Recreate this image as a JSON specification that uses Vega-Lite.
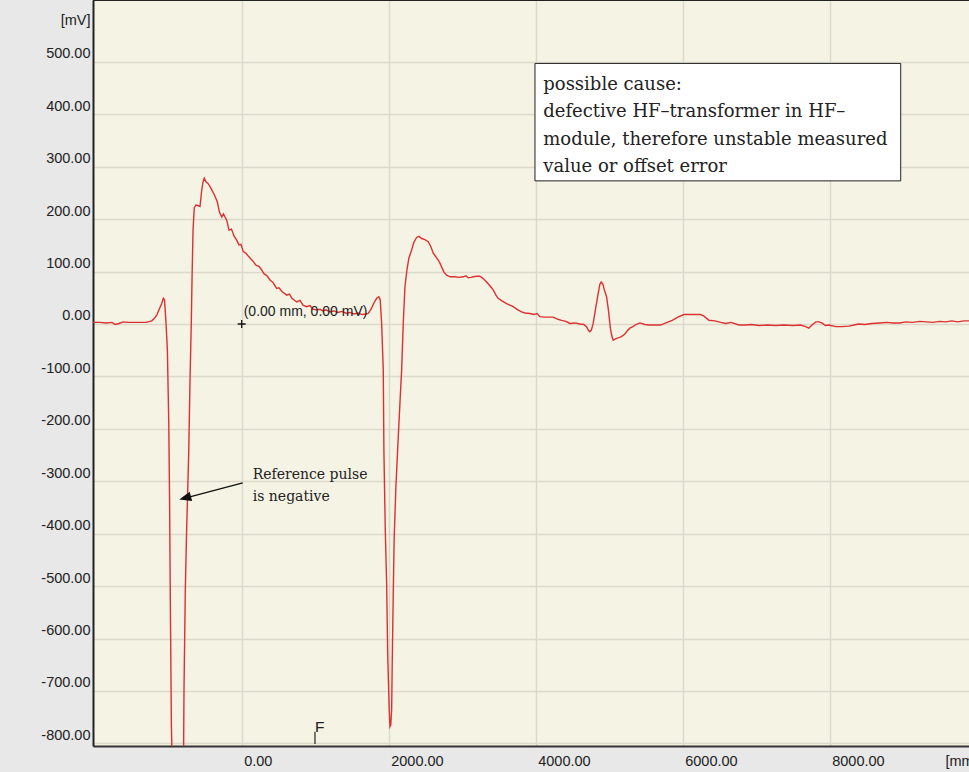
{
  "$schema": "https://vega.github.io/schema/vega-lite/v6.json",
  "width": 876,
  "height": 746,
  "autosize": {"type": "none"},
  "padding": {"left": 93, "top": 0, "right": 0, "bottom": 26},
  "background": "#e8e8e8",
  "config": {
    "view": {"fill": "#f5f3e4", "stroke": null},
    "font": "Liberation Sans"
  },
  "datasets": {
    "trace": [
      {"x":-2023,"y":3},{"x":-1927,"y":3},{"x":-1846,"y":2},{"x":-1764,"y":3},{"x":-1723,"y":-1},{"x":-1669,"y":1},{"x":-1610,"y":4},{"x":-1546,"y":3},{"x":-1465,"y":3},{"x":-1360,"y":3},{"x":-1302,"y":3},{"x":-1224,"y":6},{"x":-1193,"y":10},{"x":-1156,"y":17},{"x":-1125,"y":27},{"x":-1088,"y":39},{"x":-1066,"y":49},{"x":-1050,"y":46},{"x":-1029,"y":1},{"x":-1011,"y":-50},{"x":-992,"y":-190},{"x":-981,"y":-336},{"x":-974,"y":-476},{"x":-957,"y":-762},{"x":-938,"y":-889},{"x":-870,"y":-960},{"x":-794,"y":-889},{"x":-785,"y":-698},{"x":-767,"y":-507},{"x":-748,"y":-387},{"x":-721,"y":-247},{"x":-703,"y":-107},{"x":-685,"y":7},{"x":-676,"y":84},{"x":-662,"y":179},{"x":-645,"y":222},{"x":-622,"y":227},{"x":-598,"y":226},{"x":-567,"y":224},{"x":-544,"y":255},{"x":-526,"y":271},{"x":-509,"y":278},{"x":-486,"y":271},{"x":-458,"y":268},{"x":-431,"y":262},{"x":-404,"y":255},{"x":-377,"y":248},{"x":-332,"y":233},{"x":-302,"y":213},{"x":-272,"y":204},{"x":-248,"y":210},{"x":-204,"y":198},{"x":-173,"y":179},{"x":-139,"y":181},{"x":-105,"y":168},{"x":-68,"y":160},{"x":-37,"y":151},{"x":-10,"y":152},{"x":22,"y":138},{"x":58,"y":135},{"x":92,"y":129},{"x":126,"y":124},{"x":158,"y":119},{"x":194,"y":112},{"x":235,"y":110},{"x":272,"y":103},{"x":303,"y":96},{"x":344,"y":92},{"x":385,"y":84},{"x":426,"y":79},{"x":476,"y":68},{"x":507,"y":69},{"x":548,"y":62},{"x":612,"y":55},{"x":650,"y":57},{"x":684,"y":49},{"x":748,"y":42},{"x":793,"y":45},{"x":834,"y":36},{"x":884,"y":33},{"x":929,"y":35},{"x":970,"y":28},{"x":1020,"y":27},{"x":1065,"y":28},{"x":1106,"y":25},{"x":1146,"y":27},{"x":1201,"y":23},{"x":1255,"y":25},{"x":1310,"y":22},{"x":1364,"y":24},{"x":1428,"y":20},{"x":1473,"y":22},{"x":1527,"y":19},{"x":1582,"y":21},{"x":1636,"y":18},{"x":1690,"y":19},{"x":1722,"y":20},{"x":1758,"y":28},{"x":1799,"y":40},{"x":1836,"y":49},{"x":1867,"y":52},{"x":1885,"y":46},{"x":1904,"y":1},{"x":1926,"y":-88},{"x":1935,"y":-244},{"x":1953,"y":-390},{"x":1972,"y":-495},{"x":1986,"y":-628},{"x":2007,"y":-736},{"x":2017,"y":-768},{"x":2028,"y":-765},{"x":2040,"y":-736},{"x":2048,"y":-647},{"x":2062,"y":-514},{"x":2075,"y":-406},{"x":2099,"y":-307},{"x":2130,"y":-215},{"x":2153,"y":-151},{"x":2176,"y":-88},{"x":2198,"y":1},{"x":2221,"y":71},{"x":2248,"y":103},{"x":2275,"y":126},{"x":2312,"y":141},{"x":2343,"y":156},{"x":2380,"y":165},{"x":2411,"y":167},{"x":2448,"y":163},{"x":2493,"y":161},{"x":2538,"y":157},{"x":2575,"y":147},{"x":2606,"y":135},{"x":2643,"y":128},{"x":2674,"y":122},{"x":2697,"y":116},{"x":2720,"y":109},{"x":2752,"y":99},{"x":2788,"y":93},{"x":2833,"y":90},{"x":2901,"y":90},{"x":2956,"y":89},{"x":3014,"y":90},{"x":3051,"y":92},{"x":3082,"y":88},{"x":3119,"y":89},{"x":3150,"y":90},{"x":3201,"y":91},{"x":3241,"y":91},{"x":3282,"y":87},{"x":3332,"y":80},{"x":3377,"y":73},{"x":3422,"y":65},{"x":3459,"y":55},{"x":3490,"y":49},{"x":3540,"y":44},{"x":3604,"y":39},{"x":3649,"y":36},{"x":3694,"y":33},{"x":3745,"y":28},{"x":3808,"y":23},{"x":3853,"y":21},{"x":3921,"y":20},{"x":3976,"y":18},{"x":4017,"y":20},{"x":4057,"y":14},{"x":4125,"y":13},{"x":4193,"y":13},{"x":4238,"y":13},{"x":4302,"y":9},{"x":4353,"y":7},{"x":4411,"y":5},{"x":4465,"y":1},{"x":4533,"y":2},{"x":4601,"y":0},{"x":4655,"y":-1},{"x":4692,"y":-5},{"x":4717,"y":-12},{"x":4737,"y":-15},{"x":4757,"y":-12},{"x":4782,"y":1},{"x":4812,"y":27},{"x":4846,"y":55},{"x":4873,"y":76},{"x":4891,"y":80},{"x":4914,"y":76},{"x":4934,"y":65},{"x":4964,"y":52},{"x":4989,"y":27},{"x":5016,"y":-8},{"x":5036,"y":-23},{"x":5054,"y":-31},{"x":5091,"y":-28},{"x":5132,"y":-26},{"x":5168,"y":-24},{"x":5213,"y":-19},{"x":5247,"y":-13},{"x":5281,"y":-8},{"x":5322,"y":-5},{"x":5363,"y":-1},{"x":5417,"y":2},{"x":5485,"y":-1},{"x":5540,"y":-2},{"x":5608,"y":-2},{"x":5699,"y":-2},{"x":5771,"y":2},{"x":5857,"y":7},{"x":5934,"y":13},{"x":6016,"y":18},{"x":6085,"y":18},{"x":6166,"y":18},{"x":6242,"y":18},{"x":6289,"y":15},{"x":6357,"y":7},{"x":6438,"y":6},{"x":6520,"y":3},{"x":6584,"y":1},{"x":6657,"y":3},{"x":6765,"y":-2},{"x":6856,"y":-2},{"x":6929,"y":-1},{"x":7037,"y":-3},{"x":7145,"y":-2},{"x":7264,"y":-3},{"x":7376,"y":-2},{"x":7499,"y":-3},{"x":7606,"y":-2},{"x":7672,"y":-5},{"x":7717,"y":-8},{"x":7758,"y":-2},{"x":7812,"y":4},{"x":7853,"y":4},{"x":7894,"y":2},{"x":7941,"y":-3},{"x":7989,"y":-2},{"x":8080,"y":-5},{"x":8167,"y":-5},{"x":8262,"y":-4},{"x":8330,"y":-2},{"x":8394,"y":0},{"x":8478,"y":-1},{"x":8574,"y":1},{"x":8680,"y":2},{"x":8776,"y":3},{"x":8862,"y":2},{"x":8953,"y":2},{"x":9035,"y":4},{"x":9130,"y":3},{"x":9225,"y":5},{"x":9316,"y":4},{"x":9402,"y":3},{"x":9497,"y":5},{"x":9579,"y":4},{"x":9661,"y":6},{"x":9743,"y":4},{"x":9825,"y":6},{"x":9895,"y":6}
    ],
    "box": [{"x1": 3990, "x2": 8966, "y1": 497, "y2": 273}],
    "boxText": [{"x": 4103, "y": 447, "t": "possible cause:\ndefective HF–transformer in HF–\nmodule, therefore unstable measured\nvalue or offset error"}],
    "arrow": [{"x": 14, "y": -303, "x2": -770, "y2": -332}],
    "head": [{"x": -770, "y": -331.6}],
    "note": [{"x": 150, "y": -296, "t": "Reference pulse\nis negative"}],
    "origin": [{"x": 0, "y": 0, "t": "(0.00 mm, 0.00 mV)"}],
    "fmark": [{"x": 997, "y": -778, "y2": -801, "t": "F"}],
    "top": [{"y": 618}]
  },
  "layer": [
    {
      "data": {"name": "box"},
      "mark": {"type": "rect", "fill": "#ffffff", "stroke": "#222222", "strokeWidth": 1},
      "encoding": {
        "x": {"field": "x1", "type": "quantitative", "title": "[mm]", "scale": {"domain": [-2023, 9895], "nice": false, "zero": false}},
        "x2": {"field": "x2", "title": "[mm]"},
        "y": {"field": "y1", "type": "quantitative", "title": "[mV]", "scale": {"domain": [-805, 618], "nice": false, "zero": false}},
        "y2": {"field": "y2", "title": "[mV]"}
      }
    },
    {
      "data": {"name": "boxText"},
      "mark": {"type": "text", "font": "DejaVu Serif", "fontSize": 18, "align": "left", "baseline": "alphabetic", "lineBreak": "\n", "lineHeight": 27.5, "color": "#222222"},
      "encoding": {
        "x": {"field": "x", "type": "quantitative", "title": "[mm]"},
        "y": {"field": "y", "type": "quantitative", "title": "[mV]"},
        "text": {"field": "t"}
      }
    },
    {
      "data": {"name": "trace"},
      "mark": {"type": "line", "color": "#dd3030", "strokeWidth": 1.4, "clip": true},
      "encoding": {
        "x": {
          "field": "x", "type": "quantitative", "title": "[mm]",
          "scale": {"domain": [-2023, 9895], "nice": false, "zero": false},
          "axis": {
            "values": [0, 2000, 4000, 6000, 8000],
            "format": ".2f",
            "labelExpr": "replace(datum.label, '−', '-')",
            "labelAlign": "left", "labelOffset": 2, "labelBaseline": "alphabetic", "labelPadding": 19,
            "labelFlush": false, "labelOverlap": false, "labelBound": false,
            "labelFont": "Liberation Sans", "labelFontSize": 14.5, "labelColor": "#222222",
            "ticks": false, "tickSize": 0,
            "domainColor": "#333333", "domainWidth": 2,
            "grid": true, "gridColor": "#dcd9cc", "gridWidth": 1.5,
            "titleX": 852, "titleY": 19, "titleAlign": "left", "titleBaseline": "alphabetic",
            "titleFont": "Liberation Sans", "titleFontSize": 14.5, "titleFontWeight": "normal", "titleColor": "#222222"
          }
        },
        "y": {
          "field": "y", "type": "quantitative", "title": "[mV]",
          "scale": {"domain": [-805, 618], "nice": false, "zero": false},
          "axis": {
            "values": [-800, -700, -600, -500, -400, -300, -200, -100, 0, 100, 200, 300, 400, 500],
            "format": ".2f",
            "labelExpr": "replace(datum.label, '−', '-')",
            "labelAlign": "right", "labelBaseline": "alphabetic", "labelOffset": -4, "labelPadding": 3,
            "labelFlush": false, "labelOverlap": false, "labelBound": false,
            "labelFont": "Liberation Sans", "labelFontSize": 14.5, "labelColor": "#222222",
            "ticks": false, "tickSize": 0,
            "domainColor": "#222222", "domainWidth": 2,
            "grid": true, "gridColor": "#dcd9cc", "gridWidth": 1.5,
            "titleAngle": 0, "titleX": -3, "titleY": 24, "titleAlign": "right", "titleBaseline": "alphabetic",
            "titleFont": "Liberation Sans", "titleFontSize": 14.5, "titleFontWeight": "normal", "titleColor": "#222222"
          }
        }
      }
    },
    {
      "data": {"name": "arrow"},
      "mark": {"type": "rule", "color": "#111111", "strokeWidth": 1.3},
      "encoding": {
        "x": {"field": "x", "type": "quantitative", "title": "[mm]"},
        "x2": {"field": "x2", "title": "[mm]"},
        "y": {"field": "y", "type": "quantitative", "title": "[mV]"},
        "y2": {"field": "y2", "title": "[mV]"}
      }
    },
    {
      "data": {"name": "head"},
      "mark": {"type": "point", "shape": "M0,-1L-0.8,1L0.8,1Z", "size": 144, "filled": true, "color": "#111111", "opacity": 1, "angle": 255},
      "encoding": {
        "x": {"field": "x", "type": "quantitative", "title": "[mm]"},
        "y": {"field": "y", "type": "quantitative", "title": "[mV]"}
      }
    },
    {
      "data": {"name": "note"},
      "mark": {"type": "text", "font": "DejaVu Serif", "fontSize": 14, "align": "left", "baseline": "alphabetic", "lineBreak": "\n", "lineHeight": 22, "color": "#222222"},
      "encoding": {
        "x": {"field": "x", "type": "quantitative", "title": "[mm]"},
        "y": {"field": "y", "type": "quantitative", "title": "[mV]"},
        "text": {"field": "t"}
      }
    },
    {
      "data": {"name": "origin"},
      "mark": {"type": "point", "shape": "M-1,0H1M0,-1V1", "size": 64, "filled": false, "stroke": "#111111", "strokeWidth": 1.3, "opacity": 1},
      "encoding": {
        "x": {"field": "x", "type": "quantitative", "title": "[mm]"},
        "y": {"field": "y", "type": "quantitative", "title": "[mV]"}
      }
    },
    {
      "data": {"name": "origin"},
      "mark": {"type": "text", "font": "Liberation Sans", "fontSize": 14, "align": "left", "baseline": "alphabetic", "dx": 2, "dy": -8, "color": "#222222"},
      "encoding": {
        "x": {"field": "x", "type": "quantitative", "title": "[mm]"},
        "y": {"field": "y", "type": "quantitative", "title": "[mV]"},
        "text": {"field": "t"}
      }
    },
    {
      "data": {"name": "fmark"},
      "mark": {"type": "text", "font": "Liberation Sans", "fontSize": 15.5, "align": "left", "baseline": "alphabetic", "color": "#222222"},
      "encoding": {
        "x": {"field": "x", "type": "quantitative", "title": "[mm]"},
        "y": {"field": "y", "type": "quantitative", "title": "[mV]"},
        "text": {"field": "t"}
      }
    },
    {
      "data": {"name": "fmark"},
      "mark": {"type": "rule", "color": "#222222", "strokeWidth": 1.2},
      "encoding": {
        "x": {"field": "x", "type": "quantitative", "title": "[mm]"},
        "y": {"field": "y", "type": "quantitative", "title": "[mV]"},
        "y2": {"field": "y2", "title": "[mV]"}
      }
    },
    {
      "data": {"name": "top"},
      "mark": {"type": "rule", "color": "#222222", "strokeWidth": 2},
      "encoding": {
        "y": {"field": "y", "type": "quantitative", "title": "[mV]"}
      }
    }
  ]
}
